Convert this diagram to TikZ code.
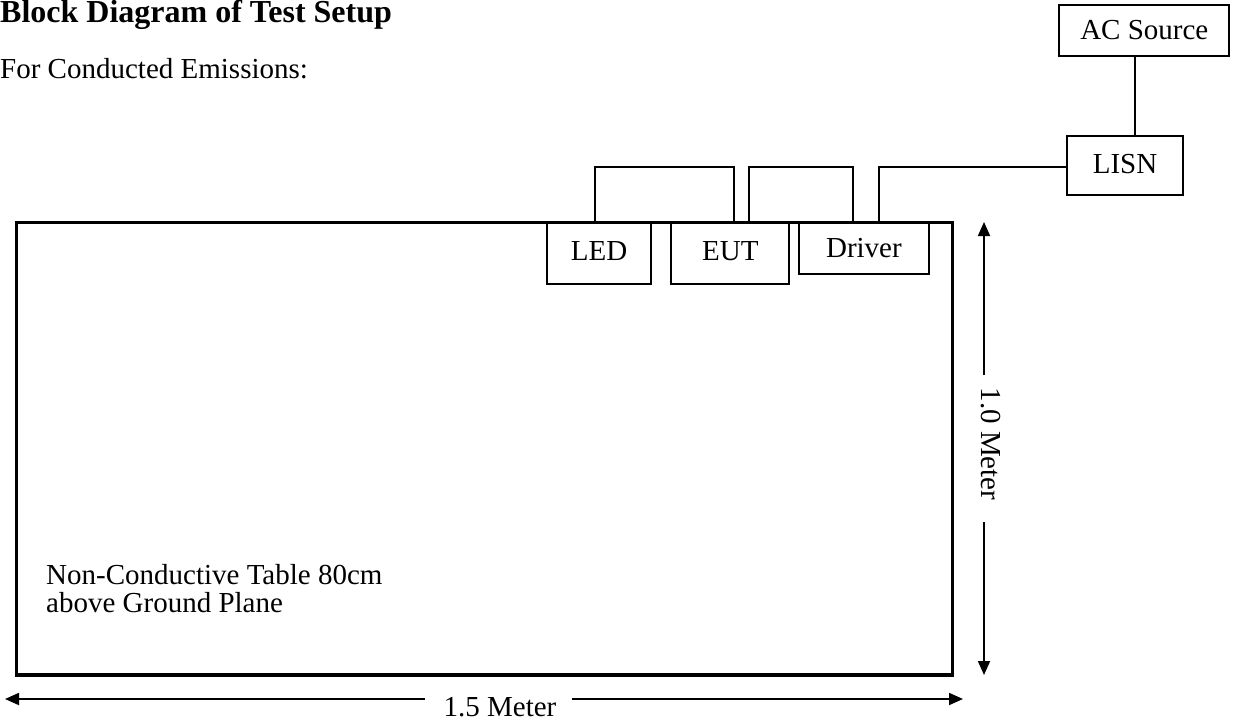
\documentclass[tikz,border=0pt]{standalone}
\usepackage{fontspec}
\setmainfont{Liberation Serif}
\usetikzlibrary{arrows.meta}
\begin{document}
\begin{tikzpicture}[x=1pt,y=-1pt,
		font=\fontsize{29}{28}\selectfont,
		box/.style={draw,rectangle,line width=1.8pt,inner sep=0pt},
		wire/.style={line width=1.8pt},
		dim/.style={line width=1.8pt,-{Triangle[length=14pt,width=12pt]}}]
		\useasboundingbox (0,0) rectangle (1238,725);

		% headings
		\node[anchor=base west,inner sep=0pt,font=\fontsize{32}{32}\selectfont\bfseries] (title) at (0,23) {Block Diagram of Test Setup};
		\node[anchor=base west,inner sep=0pt] (subtitle) at (0,78) {For Conducted Emissions:};

		% draw table
		\node[draw,rectangle,line width=3.5pt,inner sep=0pt,minimum width=936pt,minimum height=452.5pt] (table) at (484.5,448.75) {};
		\node[anchor=base west,inner sep=0pt,align=left] (tablelabel) at (46,612) {Non-Conductive Table 80cm\\above Ground Plane};

		% draw equipment on the table
		\node[box,minimum width=104pt,minimum height=62pt] (led) at (599,253) {\raisebox{4pt}{LED}};
		\node[box,minimum width=118pt,minimum height=62pt] (eut) at (730.3,253) {\raisebox{4pt}{EUT}};
		\node[box,minimum width=130pt,minimum height=52pt] (driver) at (863.9,248) {Driver};
		\node[box,minimum width=116.6pt,minimum height=59pt] (lisn) at (1125,165.5) {\raisebox{4pt}{LISN}};
		\node[box,minimum width=170pt,minimum height=50.7pt] (acsrc) at (1144.3,30.3) {AC Source};

		% cables
		\coordinate (c1) at (595.3,166.7);
		\coordinate (c2) at (734,166.7);
		\coordinate (c3) at (748.7,166.7);
		\coordinate (c4) at (853,166.7);
		\coordinate (c5) at (878.7,166.7);
		\coordinate (c6) at (1135,0);
		\draw[wire] (led.north -| c1) -- (c1) -- (c2) -- (eut.north -| c2);
		\draw[wire] (eut.north -| c3) -- (c3) -- (c4) -- (driver.north -| c4);
		\draw[wire] (driver.north -| c5) -- (c5) -- (c5 -| lisn.west);
		\draw[wire] (acsrc.south -| c6) -- (lisn.north -| c6);

		% dimensions
		\coordinate (vtop) at (984,222);
		\coordinate (vgap1) at (984,375);
		\coordinate (vgap2) at (984,522);
		\coordinate (vbot) at (984,675);
		\coordinate (hleft) at (5,699);
		\coordinate (hgap1) at (425,699);
		\coordinate (hgap2) at (572,699);
		\coordinate (hright) at (963,699);
		\node[inner sep=0pt,rotate=-90] (vlabel) at (991,444) {1.0 Meter};
		\node[inner sep=0pt] (hlabel) at (500,707) {1.5 Meter};
		\draw[dim] (vgap1) -- (vtop);
		\draw[dim] (vgap2) -- (vbot);
		\draw[dim] (hgap1) -- (hleft);
		\draw[dim] (hgap2) -- (hright);
	\end{tikzpicture}
\end{document}
